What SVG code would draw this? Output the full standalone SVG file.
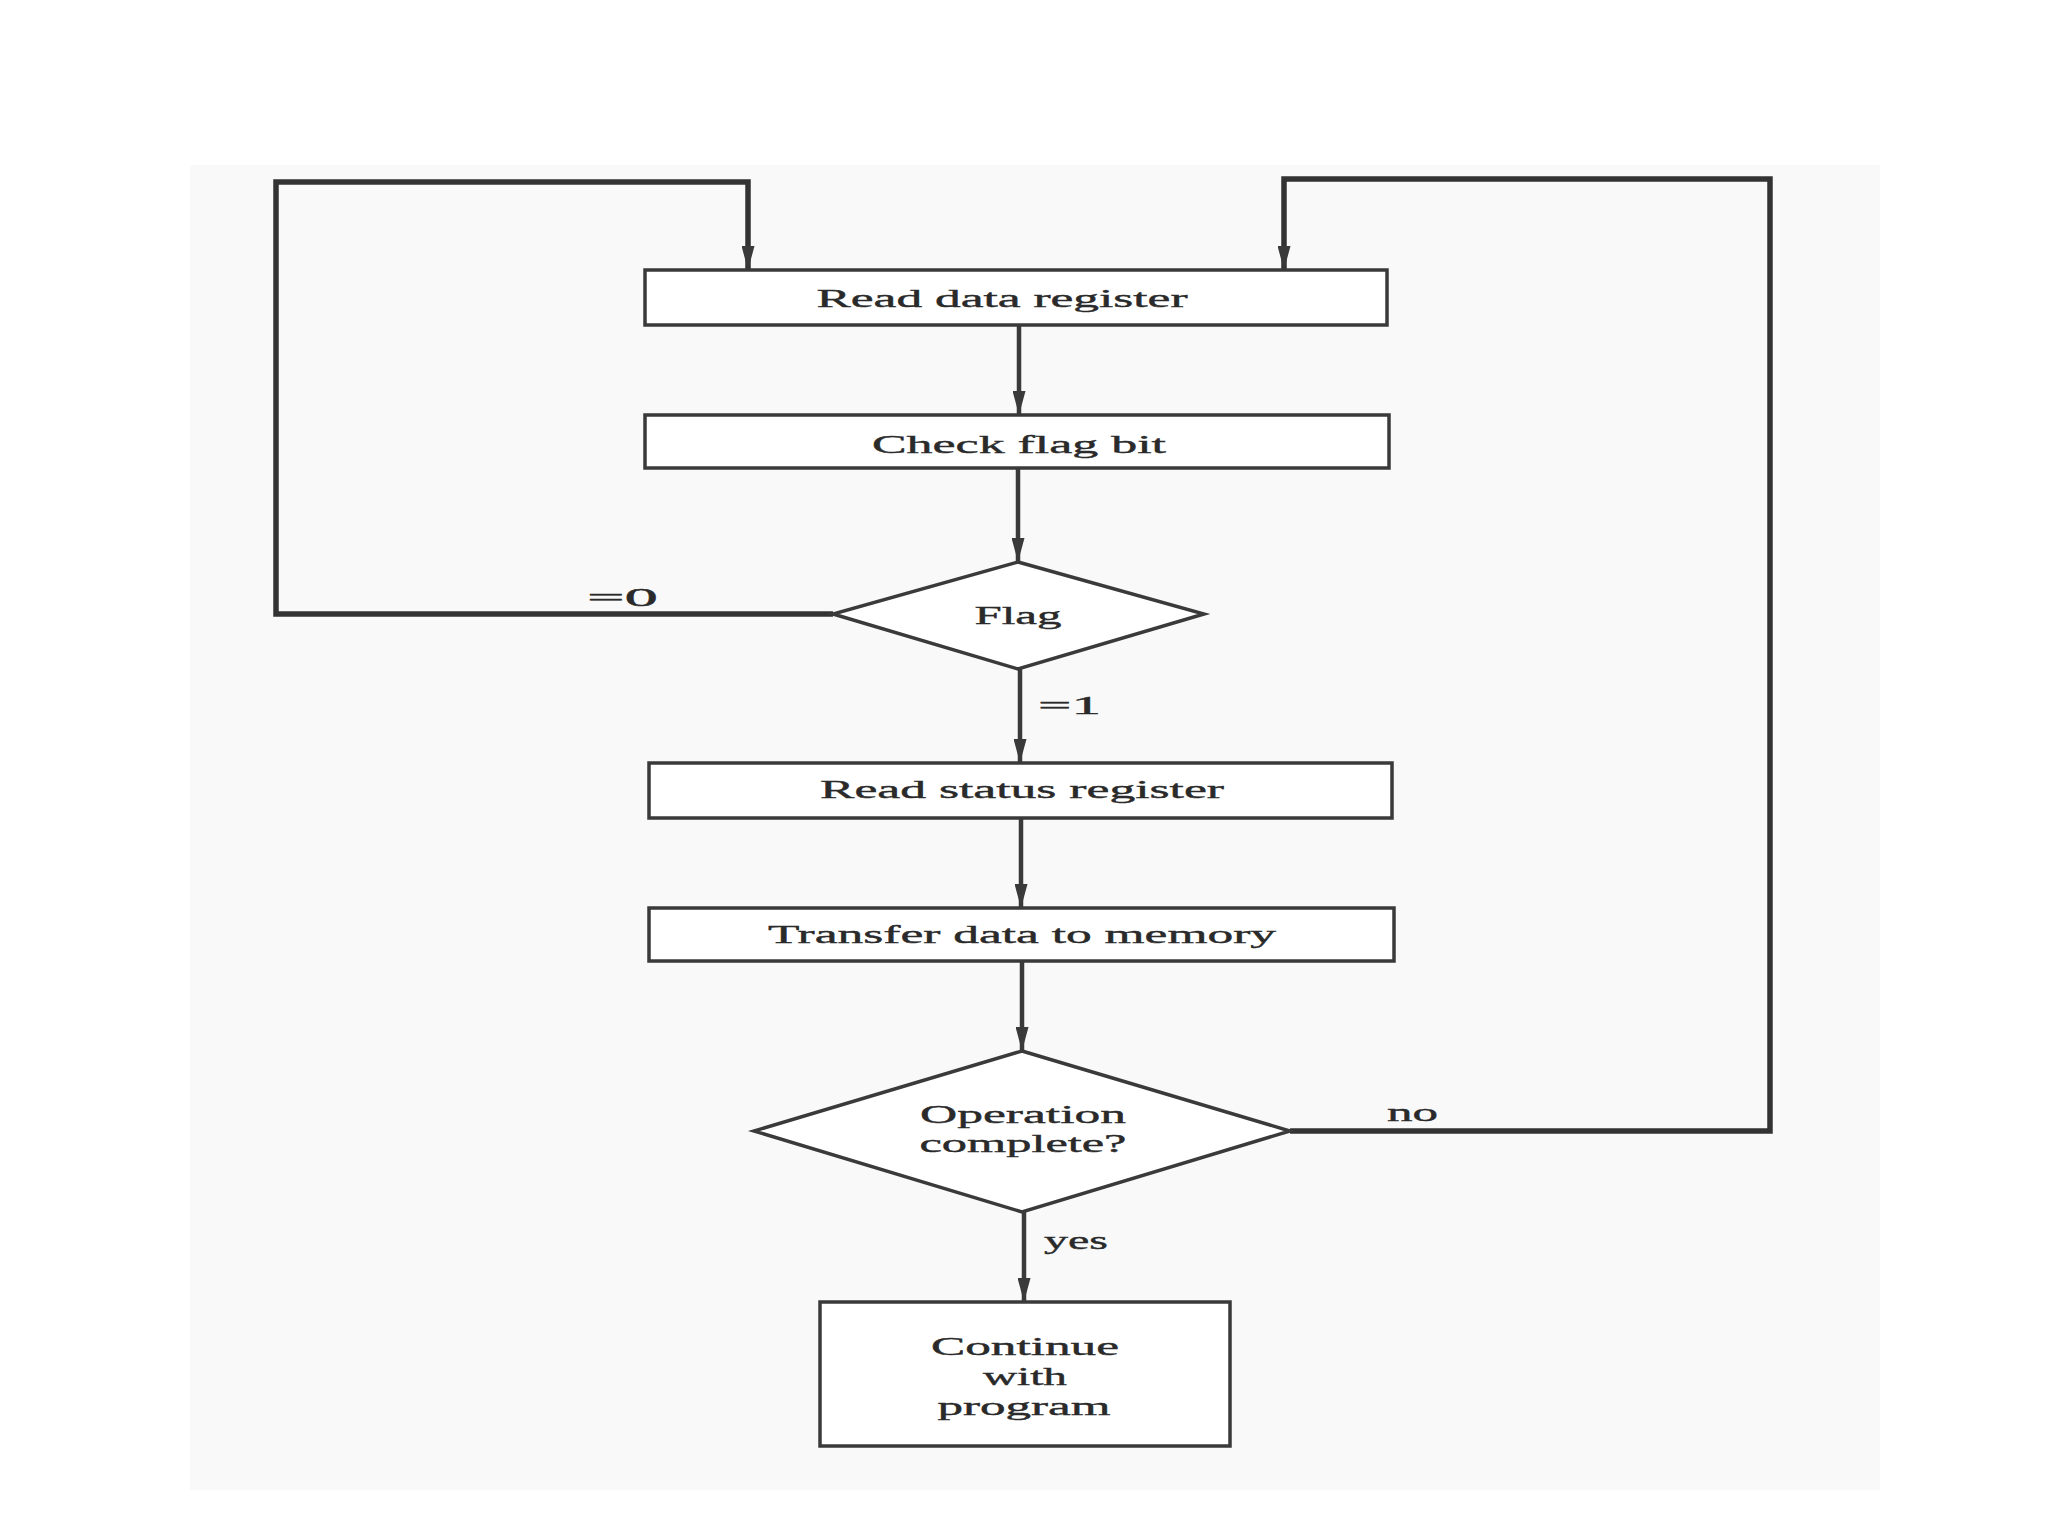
<svg xmlns="http://www.w3.org/2000/svg" width="2048" height="1536" viewBox="0 0 2048 1536">
<defs>
<style>
.box{fill:#ffffff;stroke:#3a3a3a;stroke-width:3.5}
.dia{fill:#ffffff;stroke:#3a3a3a;stroke-width:3.5}
.conn{fill:none;stroke:#3a3a3a;stroke-width:4.5;stroke-linejoin:miter}
.loop{fill:none;stroke:#333333;stroke-width:5.5;stroke-linejoin:miter}
.t{font-family:"Liberation Serif","Times New Roman",serif;font-size:26px;fill:#2a2a2a;stroke:#2a2a2a;stroke-width:0.4;text-anchor:middle}
.lbl{font-family:"Liberation Serif","Times New Roman",serif;font-size:26px;fill:#2a2a2a;stroke:#2a2a2a;stroke-width:0.4}
</style>
<marker id="arr" viewBox="0 0 24 13" refX="24" refY="6.5" markerWidth="24" markerHeight="13" markerUnits="userSpaceOnUse" orient="auto">
<path d="M0,0 L24,6.5 L0,13 z" fill="#3a3a3a"/>
</marker>
</defs>
<rect x="0" y="0" width="2048" height="1536" fill="#ffffff"/>
<rect x="190" y="165" width="1690" height="1325" fill="#f9f9f9"/>

<g id="connectors">
<path class="conn" d="M1019,325 L1019,415" marker-end="url(#arr)"/>
<path class="conn" d="M1018,468 L1018,562" marker-end="url(#arr)"/>
<path class="conn" d="M1020,669 L1020,763" marker-end="url(#arr)"/>
<path class="conn" d="M1021,818 L1021,908" marker-end="url(#arr)"/>
<path class="conn" d="M1022,961 L1022,1051" marker-end="url(#arr)"/>
<path class="conn" d="M1024,1212 L1024,1302" marker-end="url(#arr)"/>
<path class="loop" d="M833,614 L276,614 L276,182 L748,182 L748,270" marker-end="url(#arr)"/>
<path class="loop" d="M1290,1131 L1770,1131 L1770,179 L1284,179 L1284,270" marker-end="url(#arr)"/>
<text class="lbl" x="587" y="606" textLength="71" lengthAdjust="spacingAndGlyphs">=0</text>
<text class="lbl" x="1038" y="714" textLength="63" lengthAdjust="spacingAndGlyphs">=1</text>
<text class="lbl" x="1387" y="1121" textLength="51" lengthAdjust="spacingAndGlyphs">no</text>
<text class="lbl" x="1044" y="1249" textLength="64" lengthAdjust="spacingAndGlyphs">yes</text>
</g>

<g id="read-data-register">
<rect class="box" x="645" y="270" width="742" height="55"/>
<text class="t" x="1002" y="307" textLength="371" lengthAdjust="spacingAndGlyphs">Read data register</text>
</g>

<g id="check-flag-bit">
<rect class="box" x="645" y="415" width="744" height="53"/>
<text class="t" x="1019" y="453" textLength="294" lengthAdjust="spacingAndGlyphs">Check flag bit</text>
</g>

<g id="flag">
<polygon class="dia" points="1018,562 1204,614 1018,669 833,614"/>
<text class="t" x="1018" y="624" textLength="87" lengthAdjust="spacingAndGlyphs">Flag</text>
</g>

<g id="read-status-register">
<rect class="box" x="649" y="763" width="743" height="55"/>
<text class="t" x="1022" y="798" textLength="404" lengthAdjust="spacingAndGlyphs">Read status register</text>
</g>

<g id="transfer-data">
<rect class="box" x="649" y="908" width="745" height="53"/>
<text class="t" x="1022" y="943" textLength="508" lengthAdjust="spacingAndGlyphs">Transfer data to memory</text>
</g>

<g id="operation-complete">
<polygon class="dia" points="1022,1051 1290,1131 1022,1212 754,1131"/>
<text class="t" x="1023" y="1123" textLength="206" lengthAdjust="spacingAndGlyphs">Operation</text>
<text class="t" x="1023" y="1152" textLength="207" lengthAdjust="spacingAndGlyphs">complete?</text>
</g>

<g id="continue-with-program">
<rect class="box" x="820" y="1302" width="410" height="144"/>
<text class="t" x="1025" y="1355" textLength="188" lengthAdjust="spacingAndGlyphs">Continue</text>
<text class="t" x="1025" y="1385" textLength="84" lengthAdjust="spacingAndGlyphs">with</text>
<text class="t" x="1024" y="1415" textLength="173" lengthAdjust="spacingAndGlyphs">program</text>
</g>
</svg>
